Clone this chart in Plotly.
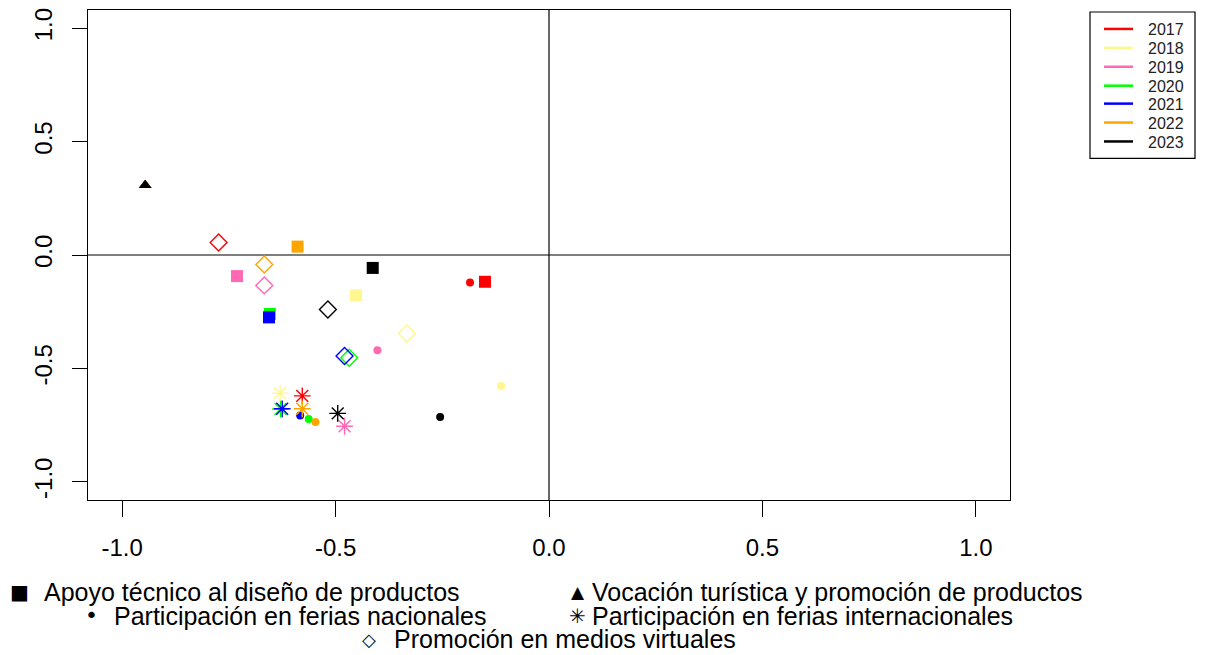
import plotly.graph_objects as go

# ---------------- data ----------------
years = ["2017", "2018", "2019", "2020", "2021", "2022", "2023"]
year_colors = ["#FF0000", "#FFF68F", "#FF69B4", "#00FF00", "#0000FF", "#FFA500", "#000000"]

categories = [
    "Apoyo técnico al diseño de productos",
    "Vocación turística y promoción de productos",
    "Participación en ferias nacionales",
    "Participación en ferias internacionales",
    "Promoción en medios virtuales",
]

# coordinates per category, one value per year (2017..2023)
apoyo_x = [-0.150, -0.452, -0.731, -0.654, -0.656, -0.589, -0.413]
apoyo_y = [-0.118, -0.178, -0.093, -0.260, -0.275, 0.037, -0.057]

vocacion_x = [-0.946, -0.946, -0.946, -0.946, -0.946, -0.946, -0.946]
vocacion_y = [0.307, 0.307, 0.307, 0.307, 0.307, 0.307, 0.307]

nacionales_x = [-0.185, -0.112, -0.402, -0.563, -0.583, -0.547, -0.255]
nacionales_y = [-0.121, -0.577, -0.420, -0.723, -0.707, -0.736, -0.714]

internacionales_x = [-0.578, -0.630, -0.479, -0.629, -0.625, -0.578, -0.495]
internacionales_y = [-0.621, -0.609, -0.755, -0.679, -0.678, -0.678, -0.698]

virtuales_x = [-0.774, -0.333, -0.667, -0.468, -0.479, -0.667, -0.518]
virtuales_y = [0.055, -0.346, -0.134, -0.453, -0.445, -0.042, -0.240]

axis_ticks = [-1.0, -0.5, 0.0, 0.5, 1.0]
axis_ticktext = ["-1.0", "-0.5", "0.0", "0.5", "1.0"]

# ---------------- styling ----------------
cat_symbols = ["square", "triangle-up", "circle", "asterisk-open", "diamond-open"]
cat_sizes = [12, 11, 8, 14, 13]
cat_linew = [0, 0, 0, 1.4, 1.4]
cat_legend_glyph = ["■", "▲", "•", "✳", "◇"]
cat_glyph_size = [20, 17, 22, 20, 18]

W, H = 1205, 655
ML, MR, MT, MB = 88, 195, 8, 155
PW, PH = W - ML - MR, H - MT - MB
FONT = "Liberation Sans, Arial, sans-serif"


def px2paper(px, py):
    return (px - ML) / PW, (H - MB - py) / PH


xs_all = [apoyo_x, vocacion_x, nacionales_x, internacionales_x, virtuales_x]
ys_all = [apoyo_y, vocacion_y, nacionales_y, internacionales_y, virtuales_y]

fig = go.Figure()
for i, (yr, col) in enumerate(zip(years, year_colors)):
    fig.add_trace(go.Scatter(
        x=[xs[i] for xs in xs_all],
        y=[ys[i] for ys in ys_all],
        mode="markers",
        name=yr,
        text=categories,
        showlegend=False,
        marker=dict(
            symbol=cat_symbols,
            size=cat_sizes,
            color=col,
            opacity=1,
            line=dict(color=col, width=cat_linew),
        ),
        cliponaxis=False,
    ))

shapes = [
    dict(type="line", xref="x", yref="paper", x0=0, x1=0, y0=0, y1=1,
         line=dict(color="black", width=1.2), layer="below"),
    dict(type="line", xref="paper", yref="y", x0=0, x1=1, y0=0, y1=0,
         line=dict(color="black", width=1.2), layer="below"),
]
annotations = []

# top-right year legend
bx0, by0 = px2paper(1090, 10)
bx1, by1 = px2paper(1195, 157)
shapes.append(dict(type="rect", xref="paper", yref="paper", x0=bx0, x1=bx1, y0=by1, y1=by0,
                   line=dict(color="black", width=1.2), fillcolor="white"))
row_y = [27, 46, 65, 84, 102, 121, 140]
for yr, col, ry in zip(years, year_colors, row_y):
    lx0, ly = px2paper(1104, ry)
    lx1, _ = px2paper(1133, ry)
    shapes.append(dict(type="line", xref="paper", yref="paper", x0=lx0, x1=lx1, y0=ly, y1=ly,
                       line=dict(color=col, width=2.5)))
    tx, ty = px2paper(1146, ry + 1)
    annotations.append(dict(xref="paper", yref="paper", x=tx, y=ty, text=yr, showarrow=False,
                            xanchor="left", yanchor="middle",
                            font=dict(family=FONT, size=16, color="#222")))

# bottom category legend
legend_pos = [
    (19, 42, 592),   # glyph x, text x, y
    (578, 590, 592),
    (91, 112, 616),
    (577, 590, 616),
    (369, 392, 640),
]
for k, (gx, tx_, ty_) in enumerate(legend_pos):
    gpx, gpy = px2paper(gx, ty_)
    annotations.append(dict(xref="paper", yref="paper", x=gpx, y=gpy, text=cat_legend_glyph[k],
                            showarrow=False, xanchor="center", yanchor="middle",
                            font=dict(family="DejaVu Sans, Liberation Sans",
                                      size=cat_glyph_size[k], color="black")))
    tpx, tpy = px2paper(tx_, ty_)
    annotations.append(dict(xref="paper", yref="paper", x=tpx, y=tpy, text=categories[k],
                            showarrow=False, xanchor="left", yanchor="middle",
                            font=dict(family=FONT, size=25, color="black")))

axis_common = dict(
    range=[-1.08, 1.08], tickvals=axis_ticks, ticktext=axis_ticktext,
    showgrid=False, zeroline=False, showline=True, mirror=True,
    linecolor="black", linewidth=1.2, ticks="outside", tickcolor="black", tickwidth=1.2,
    tickfont=dict(family=FONT, size=24, color="black"),
)

fig.update_layout(
    width=W, height=H,
    margin=dict(l=ML, r=MR, t=MT, b=MB, pad=0),
    plot_bgcolor="white", paper_bgcolor="white",
    xaxis=dict(**axis_common, ticklen=16, ticklabelstandoff=10),
    yaxis=dict(**axis_common, ticklen=15, tickangle=-90, ticklabelstandoff=10),
    shapes=shapes,
    annotations=annotations,
    showlegend=False,
)

fig.write_html("out.html", config={"displayModeBar": False},
               post_script="document.body.style.margin='0px';")
